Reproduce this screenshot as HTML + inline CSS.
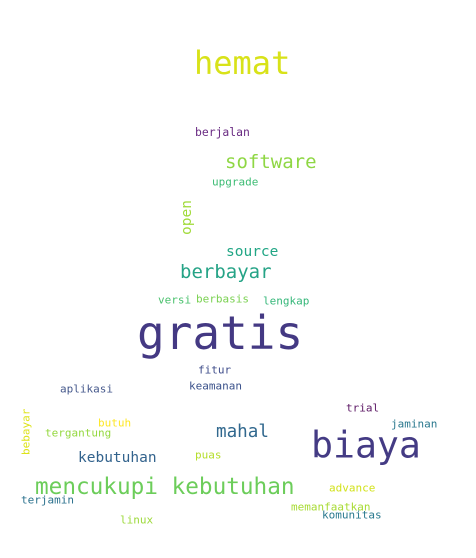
<!DOCTYPE html>
<html><head><meta charset="utf-8"><style>
html,body{margin:0;padding:0;background:#fff;}
svg{display:block;font-family:"DejaVu Sans Mono","Liberation Mono",monospace;}
</style></head><body>
<svg width="476" height="558" viewBox="0 0 476 558">
<g dominant-baseline="central">
<text x="194" y="63" font-size="32" fill="#d8e219">hemat</text>
<text x="195" y="132" font-size="11.4" fill="#6a2c83">berjalan</text>
<text x="225" y="162" font-size="19" fill="#8fd744">software</text>
<text x="212" y="182" font-size="11" fill="#3dbc74">upgrade</text>
<text transform="translate(187,235) rotate(-90)" x="0" y="0" font-size="14.5" fill="#a0da39">open</text>
<text x="226" y="252" font-size="14.5" fill="#21a685">source</text>
<text x="180" y="272" font-size="19" fill="#25a386">berbayar</text>
<text x="158" y="300" font-size="11" fill="#4ac16d">versi</text>
<text x="196" y="299" font-size="11" fill="#7ad151">berbasis</text>
<text x="263" y="301" font-size="11" fill="#35b779">lengkap</text>
<text x="137" y="333" font-size="46" fill="#443983">gratis</text>
<text x="198" y="370" font-size="11" fill="#3e4c8a">fitur</text>
<text x="60" y="389" font-size="11" fill="#46598c">aplikasi</text>
<text x="189" y="386" font-size="11" fill="#3b528b">keamanan</text>
<text x="346" y="408" font-size="11" fill="#5c1865">trial</text>
<text transform="translate(26,455) rotate(-90)" x="0" y="0" font-size="11" fill="#dde318">bebayar</text>
<text x="98" y="423" font-size="11" fill="#fde725">butuh</text>
<text x="45" y="433" font-size="11" fill="#95d840">tergantung</text>
<text x="391" y="424" font-size="11" fill="#2a788e">jaminan</text>
<text x="216" y="432" font-size="17.6" fill="#31688e">mahal</text>
<text x="311" y="445" font-size="36.5" fill="#443b84">biaya</text>
<text x="78" y="458" font-size="14.5" fill="#33638d">kebutuhan</text>
<text x="195" y="455" font-size="11" fill="#b5de2b">puas</text>
<text x="35" y="487" font-size="22.7" fill="#6ccd5a">mencukupi kebutuhan</text>
<text x="329" y="488" font-size="11" fill="#d2e21b">advance</text>
<text x="21" y="500" font-size="11" fill="#2c728e">terjamin</text>
<text x="291" y="507" font-size="11" fill="#a8db34">memanfaatkan</text>
<text x="322" y="515" font-size="11" fill="#29798e">komunitas</text>
<text x="120" y="520" font-size="11" fill="#9dd93b">linux</text>
</g>
</svg>
</body></html>
